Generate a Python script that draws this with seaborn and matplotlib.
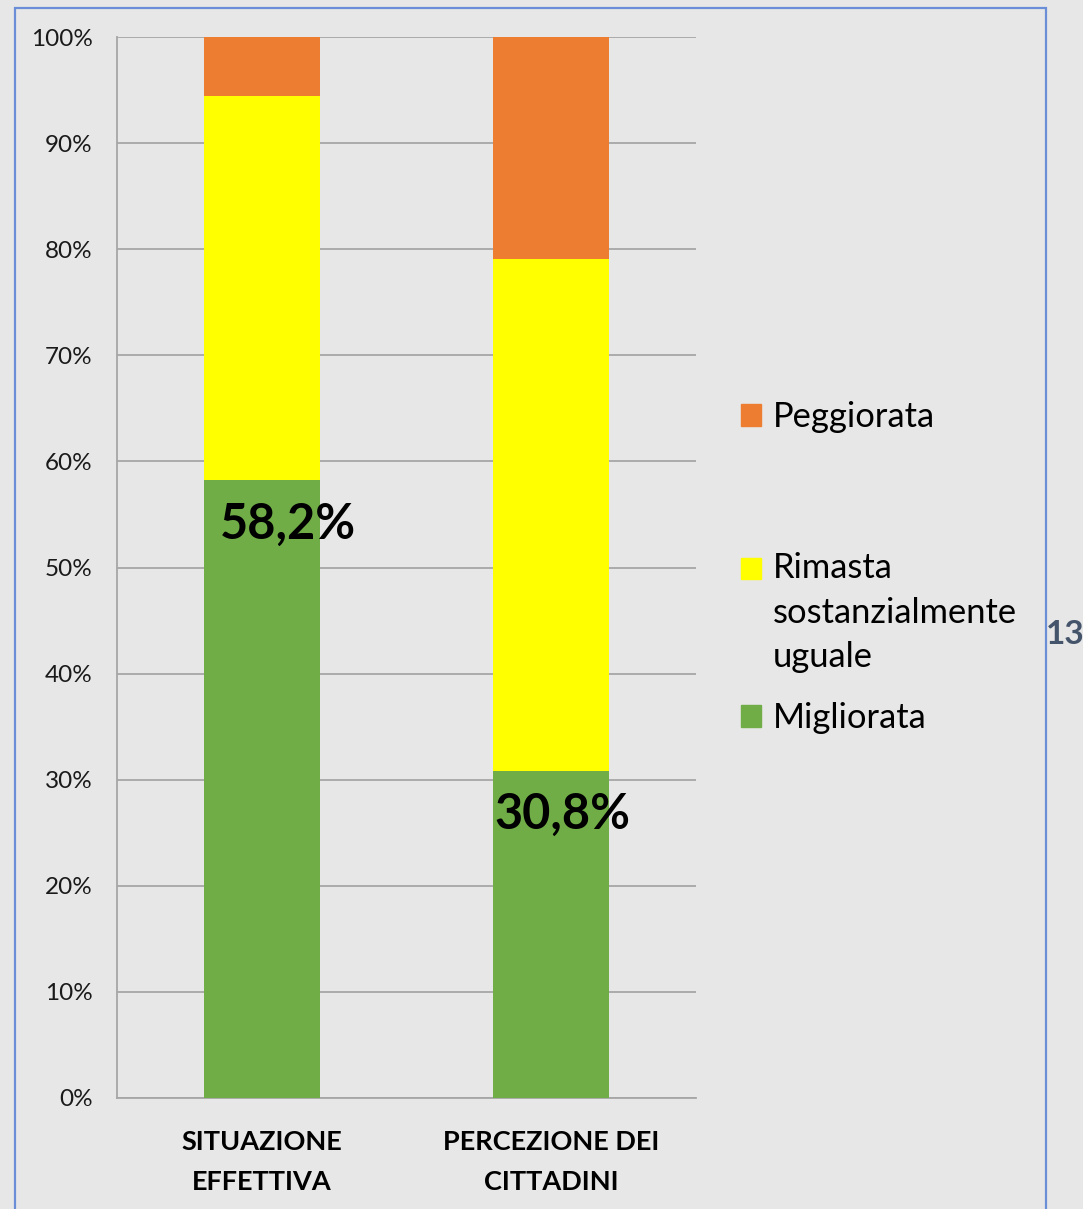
import matplotlib
matplotlib.use("Agg")
import matplotlib.pyplot as plt
import matplotlib.patches as mpatches
import seaborn as sns
import pandas as pd

# ---- data ----
categories = ["SITUAZIONE\nEFFETTIVA", "PERCEZIONE DEI\nCITTADINI"]
migliorata = [58.2, 30.8]
rimasta = [36.2, 48.3]
peggiorata = [5.6, 20.9]
series_names = ["Peggiorata", "Rimasta\nsostanzialmente\nuguale", "Migliorata"]
label_texts = ["58,2%", "30,8%"]
y_ticks = [0, 10, 20, 30, 40, 50, 60, 70, 80, 90, 100]
y_tick_labels = [f"{v}%" for v in y_ticks]

colors = {"Peggiorata": "#ED7D31", "Rimasta": "#FFFF00", "Migliorata": "#70AD47"}
BG = "#E7E7E7"
GRID = "#A6A6A6"

sns.set_theme(style="white")
plt.rcParams["font.family"] = ["Lato", "DejaVu Sans"]

W, H = 1083, 1209
fig = plt.figure(figsize=(W / 100, H / 100), dpi=100, facecolor=BG)
ax = fig.add_axes([117 / W, 1 - 1098 / H, (696 - 117) / W, (1098 - 37) / H])
ax.set_facecolor(BG)

df = pd.DataFrame({
    "cat": categories,
    "top": [m + r + p for m, r, p in zip(migliorata, rimasta, peggiorata)],
    "mid": [m + r for m, r in zip(migliorata, rimasta)],
    "low": migliorata,
})

sns.barplot(data=df, x="cat", y="top", color=colors["Peggiorata"], width=0.4,
            saturation=1, ax=ax, zorder=3, linewidth=0)
sns.barplot(data=df, x="cat", y="mid", color=colors["Rimasta"], width=0.4,
            saturation=1, ax=ax, zorder=3, linewidth=0)
sns.barplot(data=df, x="cat", y="low", color=colors["Migliorata"], width=0.4,
            saturation=1, ax=ax, zorder=3, linewidth=0)

ax.set_xlim(-0.5, 1.5)
ax.set_ylim(0, 100)
ax.set_yticks(y_ticks)
ax.set_yticklabels(y_tick_labels, fontsize=17.5, color="#1A1A1A")
ax.set_xticks(range(len(categories)))
ax.set_xticklabels(categories, fontsize=19.5, fontweight="bold", color="#000000",
                   linespacing=1.8)
ax.set_xticks([-0.5, 0.5, 1.5], minor=True)
ax.tick_params(axis="x", which="major", length=0, pad=23)
ax.tick_params(axis="x", which="minor", length=10, width=1.3, color=GRID, direction="out")
ax.tick_params(axis="y", length=9, width=1.3, color=GRID, direction="out", pad=8.5)
ax.set_xlabel("")
ax.set_ylabel("")
ax.grid(axis="y", color=GRID, linewidth=1.3, zorder=0)
ax.set_axisbelow(True)
for s in ["top", "right"]:
    ax.spines[s].set_visible(False)
for s in ["left", "bottom"]:
    ax.spines[s].set_color(GRID)
    ax.spines[s].set_linewidth(1.3)

# data labels
dx = [0.09, 0.037]
for i, (val, txt) in enumerate(zip(migliorata, label_texts)):
    ax.text(i + dx[i], val - 4.1, txt, ha="center", va="center",
            fontsize=35, fontweight="bold", color="#000000", zorder=5)

# legends (one per entry to reproduce spacing)
leg_fs = 24.8
anchors_y = [421, 572, 722]
names = ["Peggiorata", "Rimasta", "Migliorata"]
for name, label, ay in zip(names, series_names, anchors_y):
    h = mpatches.Patch(color=colors[name])
    leg = fig.legend([h], [label], loc="upper left",
                     bbox_to_anchor=(741 / W, 1 - (ay - 20) / H),
                     frameon=False, fontsize=leg_fs, handlelength=0.58,
                     handleheight=0.58, handletextpad=0.35, borderpad=0,
                     borderaxespad=0)
    for t in leg.get_texts():
        t.set_linespacing(1.49)
        t.set_color("#000000")
    if "\n" in label:
        hp = leg.legend_handles[0]
        hp.set_y(hp.get_y() + 32.4)

fig.text(1046 / W, 1 - 635 / H, "13", fontsize=24, fontweight="bold",
         color="#44546A", ha="left", va="center")

border = mpatches.Rectangle((15 / W, -0.02), (1046 - 15) / W, 1.02 - 8 / H,
                            transform=fig.transFigure, fill=False,
                            edgecolor="#6A8FD6", linewidth=1.6)
fig.patches.append(border)

fig.savefig("out.png", dpi=100, facecolor=BG)
